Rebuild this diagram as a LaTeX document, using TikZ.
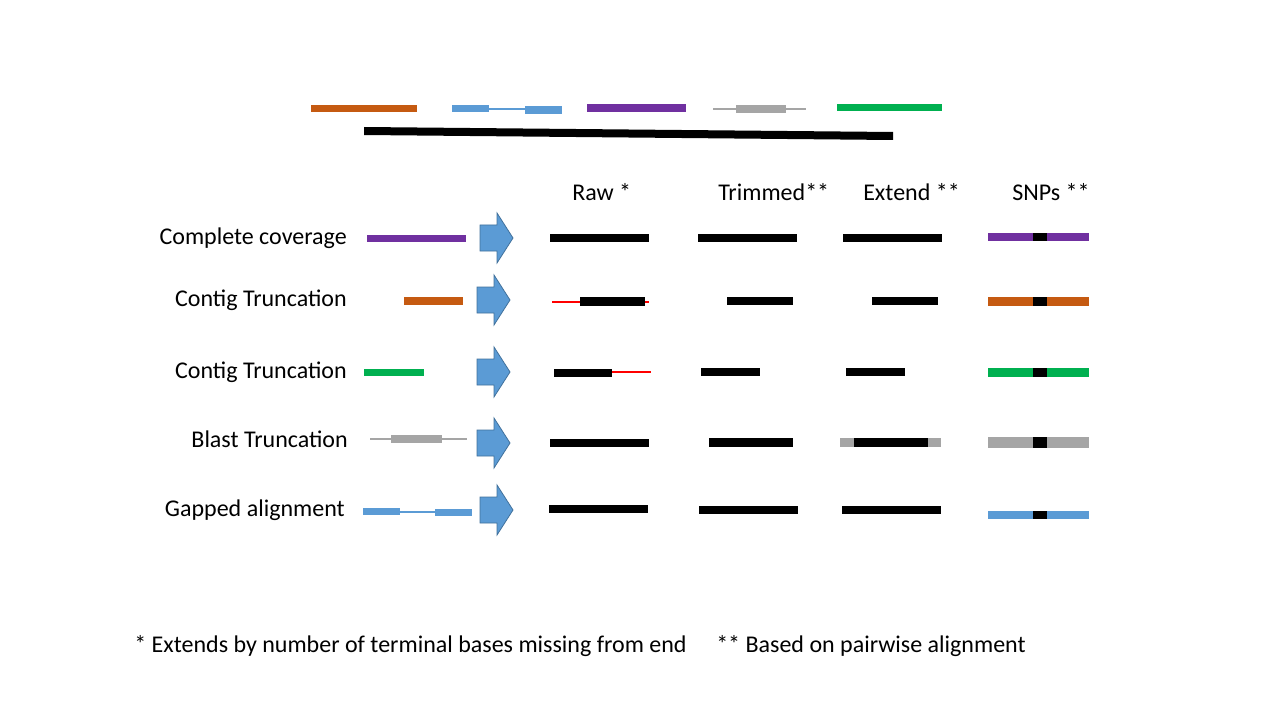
\documentclass[tikz,border=0pt]{standalone}
\usepackage{fontspec}
\setmainfont{Carlito}
\usetikzlibrary{positioning}

\definecolor{seqorange}{HTML}{C55A11}
\definecolor{seqblue}{HTML}{5B9BD5}
\definecolor{seqpurple}{HTML}{7030A0}
\definecolor{seqgray}{HTML}{A5A5A5}
\definecolor{seqgreen}{HTML}{00B050}
\definecolor{arrowedge}{HTML}{41719C}

\begin{document}
\begin{tikzpicture}[
    x=0.75pt, y=-0.75pt,
    lbl/.style={font=\fontsize{18}{22}\selectfont, inner sep=0pt},
    rowlbl/.style={lbl, anchor=east},
    colhead/.style={lbl, anchor=west},
    link/.style={line width=1.1pt},
    blockarrow/.style={fill=seqblue, draw=arrowedge, line width=0.6pt, line join=miter}
  ]
    \useasboundingbox (0,0) rectangle (1280,720);

    % reads over the reference
    \fill[seqorange] (311,105) rectangle (417,112);
    \fill[seqblue] (452,105) rectangle (489,112);
    \draw[seqblue, link] (489,109) -- (525,109);
    \fill[seqblue] (525,106) rectangle (562,114);
    \fill[seqpurple] (587,104) rectangle (686,112);
    \draw[seqgray, line width=0.8pt] (713,109) -- (806,109);
    \fill[seqgray] (736,105) rectangle (786,113);
    \fill[seqgreen] (837,104) rectangle (942,111);
    \fill (364,127) -- (893,132) -- (893,140) -- (364,135) -- cycle;

    % column heads
    \node[colhead] (raw) at (572,192) {Raw *};
    \node[colhead] (trim) at (718,192) {Trimmed**};
    \node[colhead] (ext) at (863,192) {Extend **};
    \node[colhead] (snp) at (1012,192) {SNPs **};

    % row labels
    \node[rowlbl] (complete) at (347,238) {Complete coverage};
    \node[rowlbl] (contigA) at (347,300) {Contig Truncation};
    \node[rowlbl] (contigB) at (347,372) {Contig Truncation};
    \node[rowlbl] (blast) at (348,439) {Blast Truncation};
    \node[rowlbl] (gapped) at (345,510) {Gapped alignment};

    % query glyphs
    \fill[seqpurple] (367,235) rectangle (466,242);
    \fill[seqorange] (404,297) rectangle (463,305);
    \fill[seqgreen] (364,369) rectangle (424,376);
    \draw[seqgray, line width=0.8pt] (370,439) -- (467,439);
    \fill[seqgray] (391,435) rectangle (442,443);
    \fill[seqblue] (363,508) rectangle (400,515);
    \draw[seqblue, link] (400,512) -- (435,512);
    \fill[seqblue] (435,509) rectangle (472,516);

    % block arrows
    \foreach \ax/\ay in {480/238, 477/300, 477/372, 477/443, 480/510}
      \draw[blockarrow] (\ax,\ay-13) -- ++(17,0) -- ++(0,-12) -- ++(16,25)
        -- ++(-16,25) -- ++(0,-12) -- ++(-17,0) -- cycle;

    % raw
    \fill (550,234) rectangle (649,242);
    \draw[red, line width=0.9pt] (552,302) -- (649,302);
    \fill (580,297) rectangle (645,306);
    \fill (554,369) rectangle (612,377);
    \draw[red, line width=0.9pt] (612,372) -- (651,372);
    \fill (550,439) rectangle (649,447);
    \fill (549,505) rectangle (648,513);

    % trimmed
    \fill (698,234) rectangle (797,242);
    \fill (727,297) rectangle (793,305);
    \fill (701,368) rectangle (760,376);
    \fill (709,438) rectangle (793,447);
    \fill (699,506) rectangle (798,514);

    % extend
    \fill (843,234) rectangle (942,242);
    \fill (872,297) rectangle (938,305);
    \fill (846,368) rectangle (905,376);
    \fill[seqgray] (840,438) rectangle (941,447);
    \fill (854,438) rectangle (928,447);
    \fill (842,506) rectangle (941,514);

    % snps
    \foreach \scol/\sy/\sh in {seqpurple/233/8, seqorange/297/9, seqgreen/368/9, seqgray/437/11, seqblue/511/8} {
      \fill[\scol] (988,\sy) rectangle (1089,\sy+\sh);
      \fill (1033,\sy) rectangle (1047,\sy+\sh);
    }

    % footnotes
    \node[lbl, anchor=west] (noteA) at (134,646) {* Extends by number of terminal bases missing from end};
    \node[lbl, anchor=west] (noteB) at (716,646) {** Based on pairwise alignment};
  \end{tikzpicture}
\end{document}
